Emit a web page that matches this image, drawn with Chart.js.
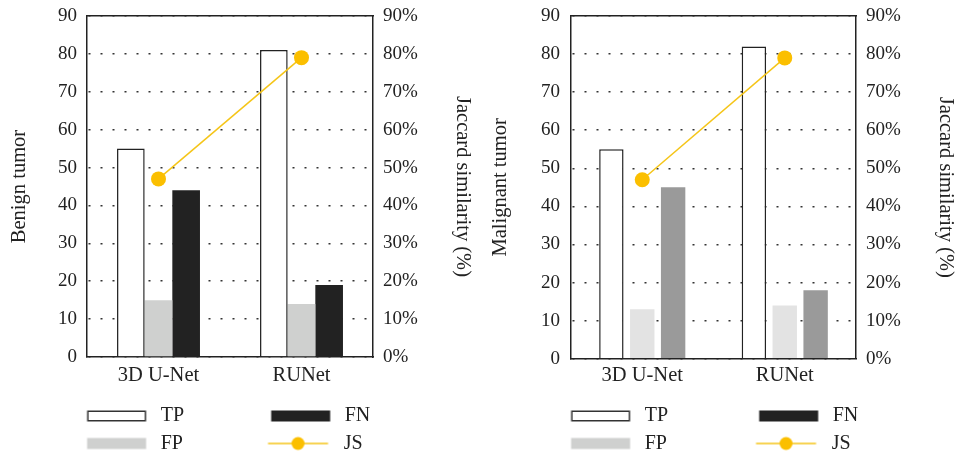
<!DOCTYPE html>
<html><head><meta charset="utf-8">
<script src="https://cdn.jsdelivr.net/npm/chart.js@4.4.0/dist/chart.umd.min.js"></script>
<style>
html,body{margin:0;padding:0;background:#fff;}
#wrap{position:relative;width:959px;height:457px;}
.c{position:absolute;top:0;height:457px;}
</style></head><body>
<div id="wrap">
<div class="c" style="left:0;width:480px"><canvas id="c1"></canvas></div>
<div class="c" style="left:480px;width:479px"><canvas id="c2"></canvas></div>
</div>
<script>
const categories = ['3D U-Net', 'RUNet'];
const benignTP = [55, 81];
const benignFP = [15, 14];
const benignFN = [44, 19];
const benignJS = [47, 79];
const malignantTP = [55, 82];
const malignantFP = [13, 14];
const malignantFN = [45, 18];
const malignantJS = [47, 79];
const seriesNames = ['TP', 'FP', 'FN', 'JS'];
const legendOrder = ['TP', 'FN', 'FP', 'JS'];
const leftTitles = ['Benign tumor', 'Malignant tumor'];
const rightTitle = 'Jaccard similarity (%)';

const FONT = 'Liberation Serif';
const TXT = '#222';

function legendImg(kind, offset, W) {
  const c = document.createElement('canvas');
  c.width = W; c.height = 16;
  const g = c.getContext('2d');
  if (kind === 'TP') {
    g.fillStyle = '#fff'; g.strokeStyle = '#333'; g.lineWidth = 1.5;
    g.fillRect(offset + 0.75, 3.25, 57.5, 9.5);
    g.strokeRect(offset + 0.75, 3.25, 57.5, 9.5);
  } else if (kind === 'FN') {
    g.fillStyle = '#222'; g.fillRect(offset, 2.5, 59, 11);
  } else if (kind === 'FP') {
    g.fillStyle = '#cfd0cf'; g.fillRect(offset, 2.5, 59, 11);
  } else {
    g.strokeStyle = '#f5c518'; g.lineWidth = 1.5;
    g.beginPath(); g.moveTo(offset - 2, 8); g.lineTo(offset + 58, 8); g.stroke();
    g.fillStyle = '#fbbf00'; g.beginPath(); g.arc(offset + 28, 8, 6.5, 0, Math.PI * 2); g.fill();
  }
  return c;
}

function makeChart(id, o) {
  const W = o.legendOffset + 59 + 4.7;
  const imgs = {};
  legendOrder.forEach(k => imgs[k] = legendImg(k, o.legendOffset, W));
  return new Chart(document.getElementById(id), {
    type: 'bar',
    data: {
      labels: categories,
      datasets: [
        { label: seriesNames[0], data: o.tp, backgroundColor: '#fff', borderColor: '#222', borderWidth: 1.5,
          categoryPercentage: o.catPct, barPercentage: o.barPct, yAxisID: 'y', order: 2 },
        { label: seriesNames[1], data: o.fp, backgroundColor: o.fpColor, borderWidth: 0,
          categoryPercentage: o.catPct, barPercentage: o.barPct, yAxisID: 'y', order: 2 },
        { label: seriesNames[2], data: o.fn, backgroundColor: o.fnColor, borderWidth: 0,
          categoryPercentage: o.catPct, barPercentage: o.barPct, yAxisID: 'y', order: 2 },
        { type: 'line', label: seriesNames[3], data: o.js, yAxisID: 'y1', order: 0,
          borderColor: '#f5c518', borderWidth: 1.5, pointRadius: 7.5, pointHoverRadius: 7.5,
          pointBackgroundColor: '#fbbf00', pointBorderWidth: 0, fill: false }
      ]
    },
    options: {
      responsive: true, maintainAspectRatio: false, animation: false,
      layout: { padding: { top: 16, bottom: -6.5, left: 0, right: 0 } },
      plugins: {
        tooltip: { enabled: false },
        legend: {
          position: 'bottom', align: 'start',
          labels: {
            usePointStyle: true, pointStyleWidth: W, padding: 7.5,
            color: TXT, font: { family: FONT, size: 20 },
            generateLabels: () => legendOrder.map(k => ({
              text: k, pointStyle: imgs[k], fillStyle: '#fff', strokeStyle: '#fff', lineWidth: 0,
              hidden: false, fontColor: TXT, datasetIndex: seriesNames.indexOf(k)
            }))
          }
        }
      },
      scales: {
        x: {
          position: 'bottom',
          grid: { display: false, drawTicks: false },
          border: { display: true, color: '#222', width: 1.5 },
          ticks: { color: TXT, font: { family: FONT, size: 20.5 }, padding: o.xPad },
          afterFit: s => { s.height = o.xHeight; }
        },
        x2: {
          position: 'top', type: 'category', labels: categories,
          grid: { display: false, drawTicks: false },
          border: { display: true, color: '#222', width: 1.5 },
          ticks: { display: false },
          afterFit: s => { s.height = 0; }
        },
        y: {
          position: 'left', min: 0, max: 90,
          ticks: { stepSize: 10, color: TXT, font: { family: FONT, size: 19 }, padding: o.yPad },
          grid: { color: '#333', lineWidth: 1.5, drawTicks: false },
          border: { display: true, color: '#222', width: 1.5, dash: [2, 10], dashOffset: 11 },
          title: { display: true, text: o.leftTitle, color: TXT, font: { family: FONT, size: 20.5 },
                   padding: { top: o.leftTitleTop, bottom: 0 } },
          afterFit: s => { s.width = o.leftWidth; s.paddingTop = 0; s.paddingBottom = 0; }
        },
        y1: {
          position: 'right', min: 0, max: 90,
          ticks: { stepSize: 10, color: TXT, font: { family: FONT, size: 19 }, padding: 10,
                   callback: v => v + '%' },
          grid: { display: false, drawTicks: false },
          border: { display: true, color: '#222', width: 1.5 },
          title: { display: true, text: rightTitle, color: TXT, font: { family: FONT, size: 20.5 },
                   padding: { top: o.rightTitleTop, bottom: 0 } },
          afterFit: s => { s.width = o.rightWidth; s.paddingTop = 0; s.paddingBottom = 0; }
        }
      }
    }
  });
}

makeChart('c1', {
  tp: benignTP, fp: benignFP, fn: benignFN, js: benignJS,
  fpColor: '#cfd0cf', fnColor: '#222222', catPct: 0.58, barPct: 1,
  leftTitle: leftTitles[0], leftTitleTop: 7.7, leftWidth: 87, rightWidth: 107, rightTitleTop: 5.7,
  yPad: 10, xPad: 6.7, xHeight: 41.5, legendOffset: 79.5
});
makeChart('c2', {
  tp: malignantTP, fp: malignantFP, fn: malignantFN, js: malignantJS,
  fpColor: '#e3e3e3', fnColor: '#9a9a9a', catPct: 0.65, barPct: 0.79,
  leftTitle: leftTitles[1], leftTitleTop: 8.7, leftWidth: 91, rightWidth: 103, rightTitleTop: 1.7,
  yPad: 11, xPad: 5, xHeight: 39.8, legendOffset: 83.5
});
</script>
</body></html>
